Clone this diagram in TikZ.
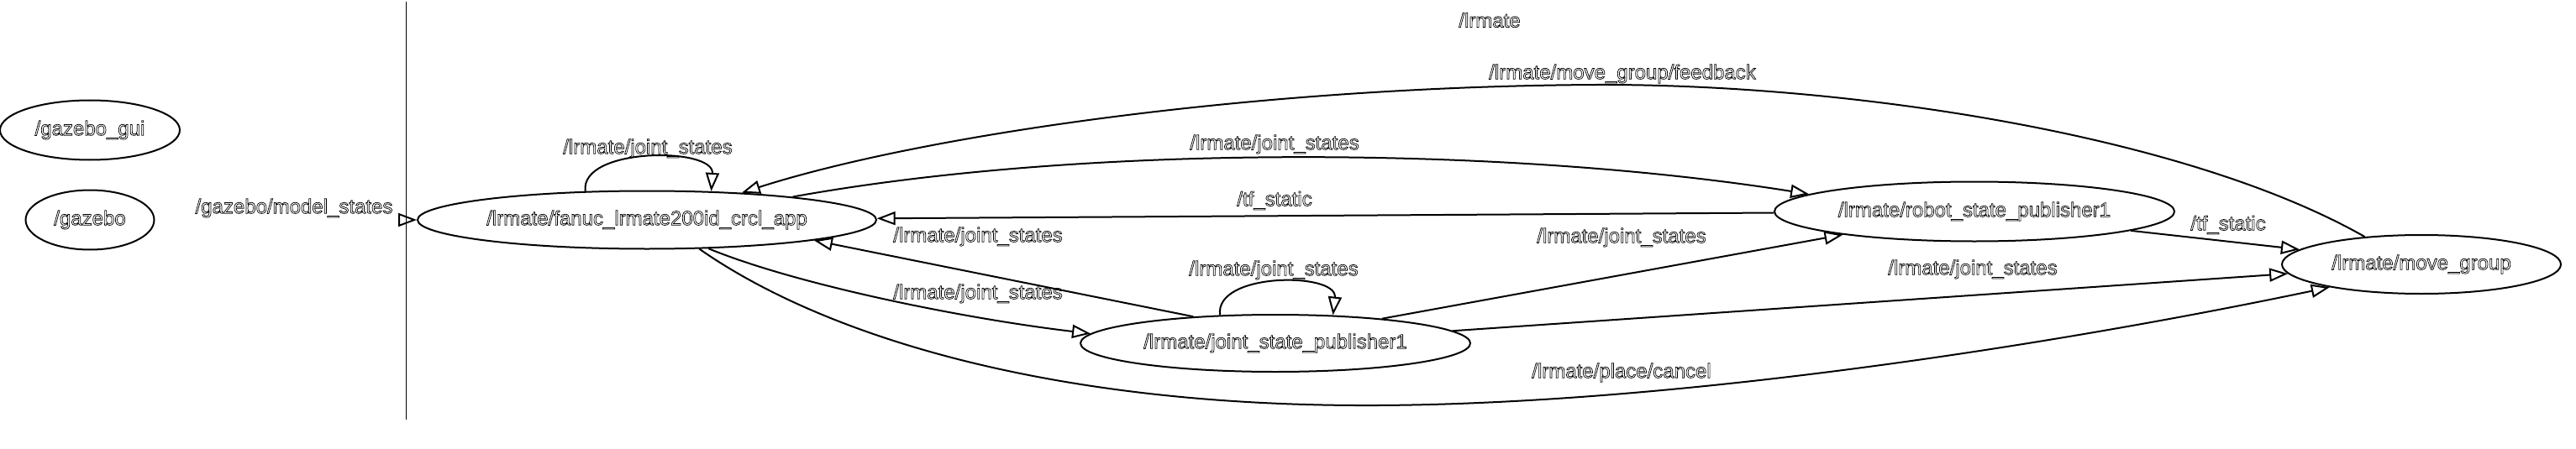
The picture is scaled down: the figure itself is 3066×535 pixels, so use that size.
\documentclass[tikz,border=0pt]{standalone}
\usepackage{fontspec}
\setmainfont{Liberation Sans}
\usetikzlibrary{arrows.meta, shapes.geometric}
\newcommand{\hollow}[1]{\special{pdf:literal direct 1 Tr 0.35 w}#1\special{pdf:literal direct 0 Tr}}

\begin{document}
\begin{tikzpicture}[
  x=0.5pt, y=-0.5pt,
  proc/.style={draw, ellipse, line width=1pt, inner sep=0pt,
               font=\fontsize{12pt}{14pt}\selectfont},
  lbl/.style={inner sep=0pt, font=\fontsize{12pt}{14pt}\selectfont},
  arr/.style={-{Triangle[open, length=11pt, width=8pt]}, line width=1pt}
]
  \useasboundingbox (0,0) rectangle (3066,535);
  \draw[line width=0.5pt] (483,2) -- (483,500);
  \node[lbl] (cluster) at (1773,24) {\hollow{/lrmate}};

  \node[proc, minimum width=107pt, minimum height=35.5pt] (gui)    at (107,155)  {\hollow{/gazebo\_gui}};
  \node[proc, minimum width=76.5pt, minimum height=35.5pt] (gazebo) at (107,262)  {\hollow{/gazebo}};
  \node[proc, minimum width=273pt, minimum height=34.5pt] (fanuc)  at (770,262)  {\hollow{/lrmate/fanuc\_lrmate200id\_crcl\_app}};
  \node[proc, minimum width=232pt, minimum height=34pt]   (jsp)    at (1518,409) {\hollow{/lrmate/joint\_state\_publisher1}};
  \node[proc, minimum width=238pt, minimum height=35.5pt] (rsp)    at (2350,252) {\hollow{/lrmate/robot\_state\_publisher1}};
  \node[proc, minimum width=166pt, minimum height=35pt]   (mg)     at (2882,315) {\hollow{/lrmate/move\_group}};

  \coordinate (gzin) at (476,262);
  \draw[arr] (gzin) -- (fanuc.west);
  \node[lbl] (lgz) at (350,248) {\hollow{/gazebo/model\_states}};

  \draw[arr] (fanuc.155) .. controls (690,175) and (850,175) .. (fanuc.24);
  \node[lbl] (lfloop) at (771,177) {\hollow{/lrmate/joint\_states}};

  \draw[arr] (mg.154) .. controls (2600,160) and (2200,100) .. (1900,101)
                      .. controls (1500,103) and (1100,160) .. (fanuc.16);
  \node[lbl] (lfb) at (1931,88) {\hollow{/lrmate/move\_group/feedback}};

  \draw[arr] (fanuc.9) .. controls (1300,170) and (1800,175) .. (rsp.174);
  \node[lbl] (lfr) at (1517,172) {\hollow{/lrmate/joint\_states}};

  \draw[arr] (rsp) -- (fanuc);
  \node[lbl] (ltf1) at (1517,239) {\hollow{/tf\_static}};

  \draw[arr] (jsp.162) -- (fanuc.-7);
  \node[lbl] (ljf) at (1164,282) {\hollow{/lrmate/joint\_states}};

  \draw[arr] (fanuc.-25) .. controls (950,340) and (1150,380) .. (jsp.177);
  \node[lbl] (lfj) at (1164,350) {\hollow{/lrmate/joint\_states}};

  \draw[arr] (jsp.153) .. controls (1445,324) and (1592,324) .. (jsp.26);
  \node[lbl] (ljloop) at (1516,322) {\hollow{/lrmate/joint\_states}};

  \draw[arr] (jsp.13) -- (rsp.190);
  \node[lbl] (ljr) at (1930,283) {\hollow{/lrmate/joint\_states}};

  \draw[arr] (jsp.4) -- (mg.184);
  \node[lbl] (ljm) at (2348,321) {\hollow{/lrmate/joint\_states}};

  \draw[arr] (rsp.-7) -- (mg.173);
  \node[lbl] (ltf2) at (2652,268) {\hollow{/tf\_static}};

  \draw[arr] (fanuc.-29) .. controls (980,400) and (1250,485) .. (1640,483)
                         .. controls (2000,481) and (2450,410) .. (mg.194);
  \node[lbl] (lpc) at (1930,444) {\hollow{/lrmate/place/cancel}};
\end{tikzpicture}
\end{document}
